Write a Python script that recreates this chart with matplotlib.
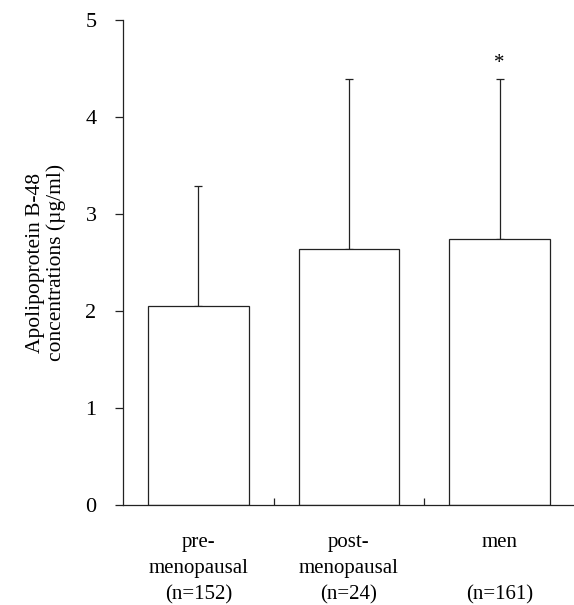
import matplotlib
matplotlib.use("Agg")
import matplotlib.pyplot as plt

groups = ["pre-\nmenopausal\n(n=152)", "post-\nmenopausal\n(n=24)", "men\n\n(n=161)"]
means = [2.05, 2.64, 2.74]
sd_upper = [1.24, 1.75, 1.65]
stars = ["", "", "*"]

plt.rcParams['font.family'] = ['Liberation Serif', 'DejaVu Serif']

fig = plt.figure(figsize=(5.74, 6.05), dpi=100)
ax = fig.add_axes([123 / 574, 100 / 605, 452 / 574, 485 / 605])

x = list(range(len(groups)))
ax.bar(x, means, width=0.67, color='white', edgecolor='#222222', linewidth=0.9, zorder=2)
ax.errorbar(x, means, yerr=[[0] * len(x), sd_upper], fmt='none', ecolor='#222222',
            elinewidth=0.9, capsize=3, capthick=0.9, zorder=1)
for xi, m, s, st in zip(x, means, sd_upper, stars):
    if st:
        ax.text(xi, m + s + 0.06, st, ha='center', va='bottom', fontsize=15)

ax.set_xlim(-0.5, 2.5)
ax.set_ylim(0, 5)
ax.set_yticks([0, 1, 2, 3, 4, 5])
ax.set_xticks(x)
ax.set_xticklabels(groups, fontsize=15, linespacing=1.5)
ax.set_xticks([0.5, 1.5], minor=True)
ax.tick_params(axis='x', which='major', length=0, pad=20)
ax.tick_params(axis='x', which='minor', direction='in', length=5, width=0.9, color='#222222')
ax.tick_params(axis='y', direction='out', length=6, width=0.9, color='#222222',
               labelsize=16, pad=13)

for side in ['top', 'right']:
    ax.spines[side].set_visible(False)
for side in ['left', 'bottom']:
    ax.spines[side].set_linewidth(0.9)
    ax.spines[side].set_color('#222222')

ax.set_ylabel("Apolipoprotein B-48\nconcentrations (\u00b5g/ml)", fontsize=15.5,
              linespacing=1.15)
ax.yaxis.set_label_coords(-0.125, 0.5)

fig.savefig("out.png", dpi=100)
